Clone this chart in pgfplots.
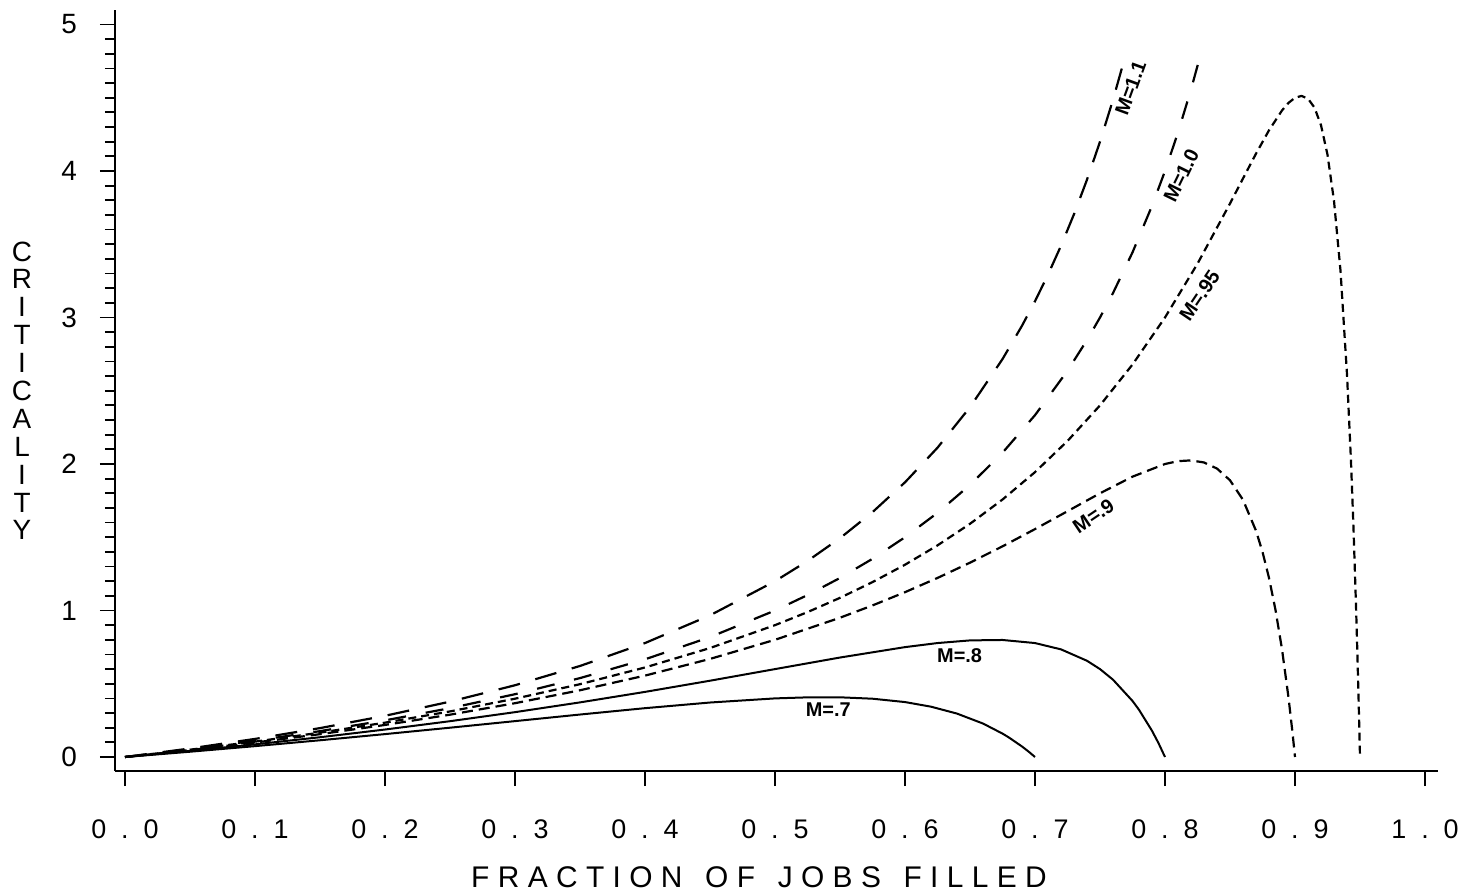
\documentclass[border=0pt]{standalone}
\usepackage{fontspec}
\setmainfont{Liberation Sans}
\newfontfamily\spacedfont[LetterSpace=28]{Liberation Sans}
\usepackage{pgfplots}
\pgfplotsset{compat=1.18}
\newcommand\xtl[2]{#1\hspace{7.5bp}.\hspace{7.5bp}#2}
\begin{document}
\begin{tikzpicture}
\begin{axis}[
  x=650bp, y=73.25bp,
  xmin=-0.0077, xmax=1.01, ymin=-0.096, ymax=5.1,
  axis x line*=bottom, axis y line*=left,
  axis line style={-, line width=1.1bp},
  xtick={0,0.1,0.2,0.3,0.4,0.5,0.6,0.7,0.8,0.9,1.0},
  xticklabels={\xtl{0}{0},\xtl{0}{1},\xtl{0}{2},\xtl{0}{3},\xtl{0}{4},\xtl{0}{5},\xtl{0}{6},\xtl{0}{7},\xtl{0}{8},\xtl{0}{9},\xtl{1}{0}},
  ytick={0,1,2,3,4,5},
  minor y tick num=9,
  tick align=outside,
  major tick length=7.5bp, minor tick length=5bp,
  tick style={black, line width=0.9bp},
  every tick/.style={black, line width=0.9bp},
  xticklabel style={font=\fontsize{13.5}{15}\selectfont, anchor=north, yshift=-13.5bp},
  yticklabel style={font=\fontsize{14}{15}\selectfont, anchor=east, xshift=-8bp},
  /pgf/number format/assume math mode=true,
  clip=false,
]
% M=1.1
\addplot[black, line width=1.1bp, dash pattern=on 11bp off 8bp] coordinates {
(0,0) (0.05,0.0582) (0.1,0.1235) (0.15,0.1972) (0.2,0.2813) (0.25,0.3778) (0.3,0.4898) (0.35,0.6213) (0.4,0.7778) (0.45,0.9669) (0.5,1.2) (0.525,1.338) (0.55,1.4938) (0.575,1.6713) (0.6,1.875) (0.625,2.1111) (0.65,2.3878) (0.675,2.716) (0.69,2.9438) (0.7,3.1111) (0.71,3.2925) (0.72,3.4898) (0.73,3.7051) (0.74,3.9408) (0.75,4.2) (0.76,4.4861) (0.769,4.770)
};
% M=1.0
\addplot[black, line width=1.1bp, dash pattern=on 9bp off 10bp] coordinates {
(0,0) (0.05,0.0526) (0.1,0.1111) (0.15,0.1765) (0.2,0.25) (0.25,0.3333) (0.3,0.4286) (0.35,0.5385) (0.4,0.6667) (0.45,0.8182) (0.5,1.0) (0.525,1.1053) (0.55,1.2222) (0.575,1.3529) (0.6,1.5) (0.625,1.6667) (0.65,1.8571) (0.675,2.0769) (0.7,2.3333) (0.725,2.6364) (0.74,2.8462) (0.75,3.0) (0.76,3.1667) (0.775,3.4444) (0.79,3.7619) (0.8,4.0) (0.81,4.2632) (0.82,4.5556) (0.829,4.848)
};
% M=.95
\addplot[black, line width=1.1bp, dash pattern=on 4bp off 2.5bp] coordinates {
(0,0) (0.05,0.0499) (0.1,0.1049) (0.15,0.1661) (0.2,0.2344) (0.25,0.3111) (0.3,0.398) (0.35,0.497) (0.4,0.6111) (0.45,0.7438) (0.5,0.9) (0.525,0.9889) (0.55,1.0864) (0.575,1.1938) (0.6,1.3125) (0.625,1.4444) (0.65,1.5918) (0.675,1.7574) (0.7,1.9444) (0.725,2.157) (0.75,2.4) (0.775,2.679) (0.8,3.0) (0.825,3.3673) (0.85,3.7778) (0.86,3.949) (0.87,4.1183) (0.88,4.2778) (0.89,4.4132) (0.895,4.4649) (0.9,4.5) (0.905,4.5125) (0.91,4.4938) (0.915,4.4325) (0.92,4.3125) (0.925,4.111) (0.93,3.7959) (0.935,3.3195) (0.94,2.6111) (0.943,2.0317) (0.945,1.562) (0.947,1.0114) (0.948,0.7012) (0.949,0.3649) (0.95,0)
};
% M=.9
\addplot[black, line width=1.1bp, dash pattern=on 5.5bp off 3bp] coordinates {
(0,0) (0.05,0.0471) (0.1,0.0988) (0.15,0.1557) (0.2,0.2188) (0.25,0.2889) (0.3,0.3673) (0.35,0.4556) (0.4,0.5556) (0.45,0.6694) (0.5,0.8) (0.55,0.9506) (0.575,1.0346) (0.6,1.125) (0.625,1.2222) (0.65,1.3265) (0.675,1.4379) (0.7,1.5556) (0.725,1.6777) (0.75,1.8) (0.775,1.9136) (0.8,2.0) (0.81,2.0194) (0.82,2.0247) (0.83,2.0104) (0.84,1.9688) (0.85,1.8889) (0.86,1.7551) (0.87,1.5444) (0.875,1.4) (0.88,1.2222) (0.885,1.0038) (0.89,0.7355) (0.895,0.4059) (0.898,0.1726) (0.9,0)
};
% M=.8
\addplot[black, line width=1bp] coordinates {
(0,0) (0.05,0.0416) (0.1,0.0864) (0.15,0.1349) (0.2,0.1875) (0.25,0.2444) (0.3,0.3061) (0.35,0.3728) (0.4,0.4444) (0.45,0.5207) (0.5,0.6) (0.55,0.679) (0.6,0.75) (0.625,0.7778) (0.65,0.7959) (0.675,0.7988) (0.7,0.7778) (0.72,0.7347) (0.74,0.6568) (0.75,0.6) (0.76,0.5278) (0.775,0.3827) (0.78,0.3223) (0.79,0.1791) (0.795,0.0946) (0.8,0)
};
% M=.7
\addplot[black, line width=1bp] coordinates {
(0,0) (0.05,0.036) (0.1,0.0741) (0.15,0.1142) (0.2,0.1563) (0.25,0.2) (0.3,0.2449) (0.35,0.2899) (0.4,0.3333) (0.45,0.3719) (0.5,0.4) (0.525,0.4072) (0.55,0.4074) (0.575,0.3979) (0.6,0.375) (0.62,0.3435) (0.64,0.2963) (0.66,0.2284) (0.675,0.1598) (0.68,0.1328) (0.69,0.0718) (0.695,0.0374) (0.7,0)
};
\tikzset{curvelab/.style={font=\bfseries\fontsize{10}{12}\selectfont, inner sep=1bp}}
\node[curvelab, rotate=70] at (axis cs:0.7735,4.567) {M=1.1};
\node[curvelab, rotate=64] at (axis cs:0.8125,3.97) {M=1.0};
\node[curvelab, rotate=56] at (axis cs:0.8266,3.15) {M=.95};
\node[curvelab, rotate=34] at (axis cs:0.745,1.645) {M=.9};
\node[curvelab] at (axis cs:0.642,0.689) {M=.8};
\node[curvelab] at (axis cs:0.541,0.321) {M=.7};
\node[align=center, inner sep=0pt, font=\fontsize{14}{14}\selectfont] at (axis cs:-0.0792,2.5) {C\\R\\I\\T\\I\\C\\A\\L\\I\\T\\Y};
\node[inner sep=0pt, font=\spacedfont\fontsize{15}{18}\selectfont] at (axis cs:0.4877,-0.819) {FRACTION\hspace{3bp} OF\hspace{3bp} JOBS\hspace{3bp} FILLED};
\coordinate (bbl) at (axis cs:-0.09615,-0.9215);
\coordinate (btr) at (axis cs:1.04,5.1672);
\end{axis}
\pgfresetboundingbox
\path[use as bounding box] (bbl) rectangle (btr);
\end{tikzpicture}
\end{document}
